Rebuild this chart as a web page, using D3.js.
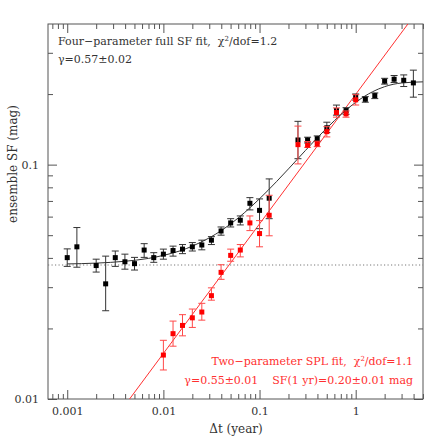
<!DOCTYPE html>
<html>
<head>
<meta charset="utf-8">
<script src="https://cdn.jsdelivr.net/npm/d3@7"></script>
<style>
html,body{margin:0;padding:0;background:#fff;}
svg{display:block;}
text{font-family:"DejaVu Serif",serif;white-space:pre;}
</style>
</head>
<body>
<svg id="chart" width="447" height="447"></svg>
<script>
// ---- data ----
const fullX = [0.001, 0.00126, 0.002, 0.00251, 0.00316, 0.00398, 0.00501, 0.00631, 0.00794, 0.01, 0.0126, 0.0158, 0.02, 0.0251, 0.0316, 0.0398, 0.0501, 0.0631, 0.0794, 0.1, 0.126, 0.251, 0.316, 0.398, 0.501, 0.631, 0.794, 1.0, 1.26, 1.58, 2.0, 2.51, 3.16, 3.98];
const fullSF = [0.0401, 0.0446, 0.0371, 0.0310, 0.0401, 0.0385, 0.0378, 0.0432, 0.0401, 0.0415, 0.0430, 0.0436, 0.0446, 0.0454, 0.0476, 0.0521, 0.0564, 0.0579, 0.0684, 0.0638, 0.0719, 0.1274, 0.1274, 0.1290, 0.1436, 0.1700, 0.1700, 0.1945, 0.1900, 0.1970, 0.2270, 0.2314, 0.2290, 0.2232];
const fullLo = [0.0368, 0.0365, 0.0348, 0.0238, 0.0368, 0.0358, 0.0355, 0.0402, 0.0383, 0.0395, 0.0407, 0.0417, 0.0428, 0.0433, 0.0456, 0.0500, 0.0542, 0.0553, 0.0641, 0.0533, 0.0588, 0.1060, 0.1237, 0.1258, 0.1370, 0.1626, 0.1640, 0.1884, 0.1846, 0.1913, 0.2205, 0.2240, 0.2154, 0.1940];
const fullHi = [0.0437, 0.0539, 0.0395, 0.0407, 0.0428, 0.0415, 0.0402, 0.0460, 0.0421, 0.0436, 0.0449, 0.0456, 0.0465, 0.0476, 0.0493, 0.0542, 0.0588, 0.0604, 0.0723, 0.0714, 0.0869, 0.1530, 0.1309, 0.1326, 0.1517, 0.1795, 0.1750, 0.2002, 0.1950, 0.2023, 0.2335, 0.2400, 0.2414, 0.2530];

const splX = [0.01, 0.0126, 0.0158, 0.02, 0.0251, 0.0316, 0.0398, 0.0501, 0.0631, 0.0794, 0.1, 0.126, 0.251, 0.316, 0.398, 0.501, 0.631, 0.794, 1.0];
const splSF = [0.0154, 0.0190, 0.0206, 0.0222, 0.0235, 0.0276, 0.0347, 0.0410, 0.0432, 0.0564, 0.0508, 0.0608, 0.1217, 0.1210, 0.1225, 0.1383, 0.1668, 0.1646, 0.1890];
const splLo = [0.0133, 0.0168, 0.0186, 0.0202, 0.0217, 0.0264, 0.0324, 0.0387, 0.0404, 0.0523, 0.0446, 0.0497, 0.1007, 0.1185, 0.1193, 0.1313, 0.1594, 0.1593, 0.1796];
const splHi = [0.0178, 0.0215, 0.0229, 0.0242, 0.0256, 0.0298, 0.0374, 0.0436, 0.0456, 0.0604, 0.0577, 0.0740, 0.1460, 0.1254, 0.1259, 0.1452, 0.1746, 0.1695, 0.1988];

// fitted curves
const fitX = [0.001, 0.002, 0.004, 0.007, 0.01, 0.015, 0.02, 0.03, 0.04, 0.06, 0.08, 0.1, 0.15, 0.2, 0.3, 0.4, 0.6, 0.8, 1, 1.5, 2, 3, 5];
const fitY = [0.0377, 0.0380, 0.0387, 0.0398, 0.0410, 0.0429, 0.0449, 0.0487, 0.0523, 0.0592, 0.0656, 0.0715, 0.0846, 0.0959, 0.1149, 0.1303, 0.1540, 0.1714, 0.1844, 0.2047, 0.2151, 0.2230, 0.2255];
const splLineX = [0.00445, 3.49];
const splLineY = [0.0100, 0.398];
const noiseLevel = 0.0373;

const xMajor = [0.001, 0.01, 0.1, 1];
const xMajorLabels = ["0.001", "0.01", "0.1", "1"];
const yMajor = [0.01, 0.1];
const yMajorLabels = ["0.01", "0.1"];

// ---- layout ----
const W = 447, H = 447;
const m = {left: 48, top: 24, right: 24, bottom: 48};
const pw = W - m.left - m.right, ph = H - m.top - m.bottom;

const svg = d3.select("#chart");
const g = svg.append("g").attr("transform", `translate(${m.left},${m.top})`);

const x = d3.scaleLog().domain([Math.pow(10, -3.2), Math.pow(10, 0.7)]).range([0, pw]);
const y = d3.scaleLog().domain([0.01, Math.pow(10, -0.4)]).range([ph, 0]);

svg.append("defs").append("clipPath").attr("id", "clip")
  .append("rect").attr("width", pw).attr("height", ph);

const axisColor = "#555";
const textColor = "#333";

const xMinor = x.ticks().filter(v => !xMajor.some(t => Math.abs(t - v) / t < 1e-6));
const yMinor = y.ticks().filter(v => !yMajor.some(t => Math.abs(t - v) / t < 1e-6));

function styleAxis(sel) {
  sel.select(".domain").remove();
  sel.selectAll("line").attr("stroke", axisColor).attr("stroke-width", 1);
  sel.selectAll("text").attr("fill", textColor).style("font-family", '"DejaVu Serif", serif').style("font-size", "11px");
}

// bottom
g.append("g").attr("transform", `translate(0,${ph})`)
  .call(d3.axisBottom(x).tickValues(xMajor).tickSize(-9).tickPadding(8).tickFormat((d, i) => xMajorLabels[i]))
  .call(styleAxis);
g.append("g").attr("transform", `translate(0,${ph})`)
  .call(d3.axisBottom(x).tickValues(xMinor).tickSize(-5).tickFormat(""))
  .call(styleAxis);
// top
g.append("g")
  .call(d3.axisTop(x).tickValues(xMajor).tickSize(-9).tickFormat(""))
  .call(styleAxis);
g.append("g")
  .call(d3.axisTop(x).tickValues(xMinor).tickSize(-5).tickFormat(""))
  .call(styleAxis);
// left
g.append("g")
  .call(d3.axisLeft(y).tickValues(yMajor).tickSize(-9).tickPadding(9).tickFormat((d, i) => yMajorLabels[i]))
  .call(styleAxis);
g.append("g")
  .call(d3.axisLeft(y).tickValues(yMinor).tickSize(-5).tickFormat(""))
  .call(styleAxis);
// right
g.append("g").attr("transform", `translate(${pw},0)`)
  .call(d3.axisRight(y).tickValues(yMajor).tickSize(-9).tickFormat(""))
  .call(styleAxis);
g.append("g").attr("transform", `translate(${pw},0)`)
  .call(d3.axisRight(y).tickValues(yMinor).tickSize(-5).tickFormat(""))
  .call(styleAxis);

// frame
g.append("rect").attr("width", pw).attr("height", ph)
  .attr("fill", "none").attr("stroke", axisColor).attr("stroke-width", 1);

const plot = g.append("g").attr("clip-path", "url(#clip)");

// noise floor dotted line
plot.append("line")
  .attr("x1", 0).attr("x2", pw)
  .attr("y1", y(noiseLevel)).attr("y2", y(noiseLevel))
  .attr("stroke", "#777").attr("stroke-width", 1).attr("stroke-dasharray", "1.2,2.3");

// SPL line (red)
plot.append("path")
  .datum(splLineX.map((v, i) => [v, splLineY[i]]))
  .attr("d", d3.line().x(d => x(d[0])).y(d => y(d[1])))
  .attr("fill", "none").attr("stroke", "#ff3030").attr("stroke-width", 1);

// full fit curve (black)
plot.append("path")
  .datum(fitX.map((v, i) => [v, fitY[i]]))
  .attr("d", d3.line().curve(d3.curveMonotoneX).x(d => x(d[0])).y(d => y(d[1])))
  .attr("fill", "none").attr("stroke", "#333").attr("stroke-width", 1);

function drawSeries(xs, ys, lo, hi, barColor, ptColor) {
  const data = xs.map((v, i) => ({x: v, y: ys[i], lo: lo[i], hi: hi[i]}));
  const cap = 3.5;
  const eg = plot.append("g").attr("stroke", barColor).attr("stroke-width", 1);
  eg.selectAll(".v").data(data).join("line")
    .attr("x1", d => x(d.x)).attr("x2", d => x(d.x))
    .attr("y1", d => y(d.lo)).attr("y2", d => y(d.hi));
  eg.selectAll(".t").data(data).join("line")
    .attr("x1", d => x(d.x) - cap).attr("x2", d => x(d.x) + cap)
    .attr("y1", d => y(d.hi)).attr("y2", d => y(d.hi));
  eg.selectAll(".b").data(data).join("line")
    .attr("x1", d => x(d.x) - cap).attr("x2", d => x(d.x) + cap)
    .attr("y1", d => y(d.lo)).attr("y2", d => y(d.lo));
  const s = 5;
  plot.append("g").selectAll("rect").data(data).join("rect")
    .attr("x", d => x(d.x) - s / 2).attr("y", d => y(d.y) - s / 2)
    .attr("width", s).attr("height", s).attr("fill", ptColor);
}

drawSeries(fullX, fullSF, fullLo, fullHi, "#333", "#000");
drawSeries(splX, splSF, splLo, splHi, "#ff4848", "#ff0000");

// annotations
const ann = g.append("g").style("font-size", "11px");
const t1 = ann.append("text").attr("x", 58 - m.left).attr("y", 45 - m.top).attr("fill", textColor);
t1.append("tspan").text("Four\u2212parameter full SF fit,  \u03c7");
t1.append("tspan").text("2").attr("dy", -4).style("font-size", "7px");
t1.append("tspan").text("/dof=1.2").attr("dy", 4);
ann.append("text").attr("x", 58 - m.left).attr("y", 63 - m.top).attr("fill", textColor)
  .text("\u03b3=0.57\u00b10.02");

const t2 = ann.append("text").attr("x", 413 - m.left).attr("y", 365 - m.top)
  .attr("fill", "#ff3030").attr("text-anchor", "end");
t2.append("tspan").text("Two\u2212parameter SPL fit,  \u03c7");
t2.append("tspan").text("2").attr("dy", -4).style("font-size", "7px");
t2.append("tspan").text("/dof=1.1").attr("dy", 4);
ann.append("text").attr("x", 413 - m.left).attr("y", 384 - m.top)
  .attr("fill", "#ff3030").attr("text-anchor", "end")
  .text("\u03b3=0.55\u00b10.01    SF(1 yr)=0.20\u00b10.01 mag");

// axis titles
svg.append("text").attr("x", 236).attr("y", 433).attr("text-anchor", "middle")
  .attr("fill", textColor).style("font-size", "12px").text("\u0394t (year)");
svg.append("text").attr("transform", "translate(17,164) rotate(-90)").attr("text-anchor", "middle")
  .attr("fill", textColor).style("font-size", "12px").text("ensemble SF (mag)");
</script>
</body>
</html>
